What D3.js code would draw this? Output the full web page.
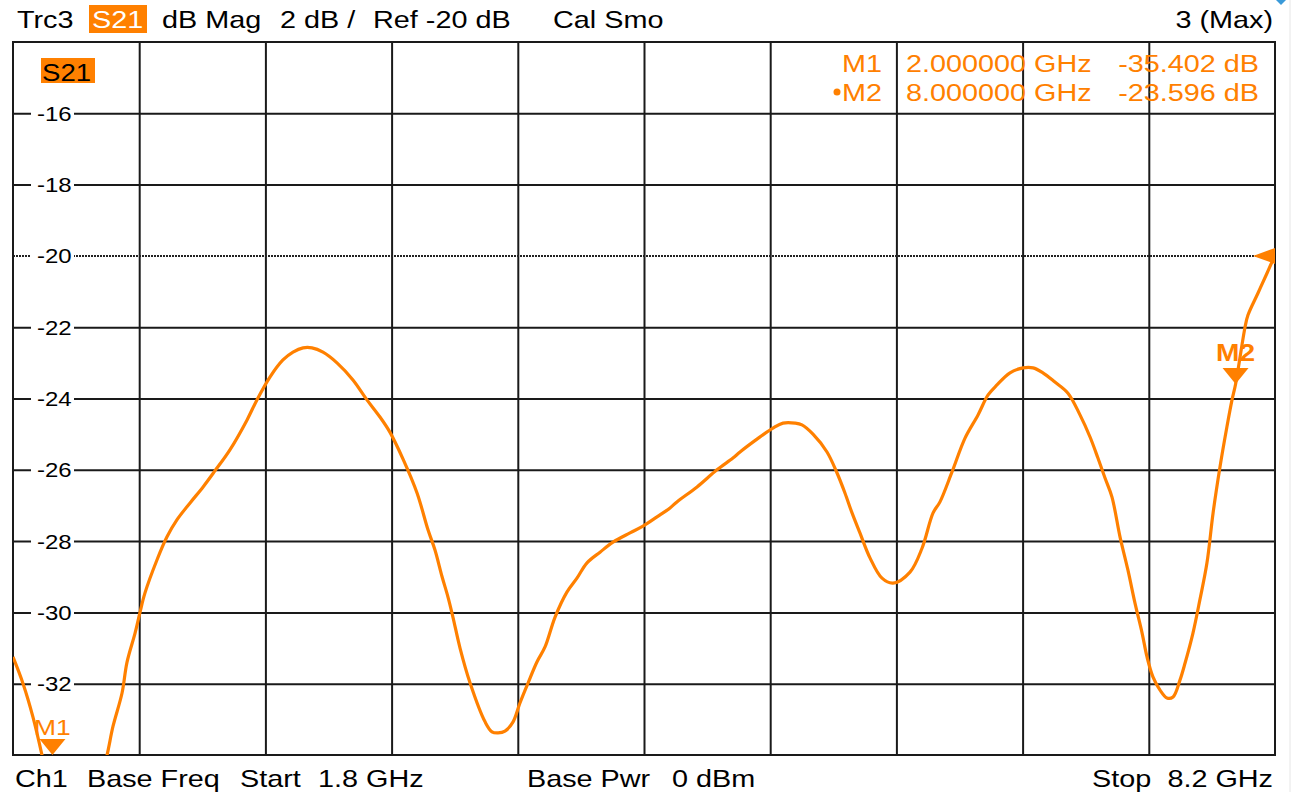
<!DOCTYPE html>
<html>
<head>
<meta charset="utf-8">
<script src="https://cdn.jsdelivr.net/npm/d3@7"></script>
<style>
  body { margin: 0; background: #fff; }
  text { font-family: "Liberation Sans", Arial, sans-serif; }
</style>
</head>
<body>
<div id="chart"></div>
<script>
// trace data (GHz, dB)
var freqs = [1.800, 1.851, 1.901, 1.947, 2.000, 2.064, 2.140, 2.216, 2.277, 2.307, 2.353, 2.378, 2.419, 2.444, 2.469,
  2.530, 2.581, 2.632, 2.698, 2.764, 2.824, 2.900, 2.987, 3.037, 3.103, 3.169, 3.220, 3.271, 3.316, 3.372,
  3.443, 3.524, 3.595, 3.661, 3.712, 3.778, 3.849, 3.905, 3.940, 3.976, 4.006, 4.031, 4.067, 4.118, 4.194,
  4.229, 4.260, 4.295, 4.336, 4.371, 4.412, 4.457, 4.498, 4.549, 4.609, 4.660, 4.711, 4.777, 4.843, 4.929,
  4.995, 5.066, 5.132, 5.167, 5.269, 5.370, 5.451, 5.487, 5.573, 5.654, 5.705, 5.766, 5.801, 5.857, 5.928,
  5.979, 6.019, 6.055, 6.095, 6.146, 6.207, 6.263, 6.349, 6.410, 6.466, 6.501, 6.562, 6.628, 6.694, 6.745,
  6.790, 6.856, 6.922, 6.973, 7.023, 7.084, 7.150, 7.211, 7.262, 7.302, 7.338, 7.373, 7.414, 7.454, 7.490,
  7.526, 7.551, 7.581, 7.617, 7.652, 7.683, 7.718, 7.744, 7.784, 7.819, 7.855, 7.886, 7.921, 7.956, 7.982,
  8.000, 8.048, 8.063, 8.114, 8.160, 8.190, 8.200];
var s21 = [-31.25, -32.0, -32.93, -34.0, -35.4, -35.95, -36.0, -35.3, -34.0, -33.2, -32.26, -31.4, -30.58, -30.0, -29.46,
  -28.53, -27.88, -27.4, -26.93, -26.48, -26.03, -25.44, -24.6, -24.04, -23.4, -22.92, -22.7, -22.58, -22.58, -22.7,
  -23.0, -23.48, -24.04, -24.52, -24.95, -25.7, -26.65, -27.69, -28.25, -29.0, -29.57, -30.13, -31.0, -31.98, -33.07,
  -33.35, -33.38, -33.33, -33.07, -32.54, -31.98, -31.39, -30.97, -30.13, -29.43, -29.04, -28.61, -28.31, -28.03, -27.77,
  -27.58, -27.32, -27.07, -26.9, -26.48, -26.0, -25.67, -25.5, -25.14, -24.83, -24.69, -24.69, -24.74, -25.0, -25.5,
  -26.09, -26.65, -27.21, -27.77, -28.47, -29.04, -29.18, -28.87, -28.2, -27.21, -26.9, -26.06, -25.11, -24.46, -23.9,
  -23.62, -23.28, -23.14, -23.14, -23.28, -23.54, -23.85, -24.46, -25.08, -25.67, -26.23, -26.76, -27.88, -28.81, -29.74,
  -30.58, -31.25, -31.81, -32.18, -32.4, -32.37, -31.9, -31.42, -30.58, -29.65, -28.61, -27.21, -25.92, -24.8, -24.04,
  -23.6, -22.0, -21.66, -21.04, -20.48, -20.12, -20.05];

var gridFreqs = [2.44, 3.08, 3.72, 4.36, 5.00, 5.64, 6.28, 6.92, 7.56];
var gridDb = [-32, -30, -28, -26, -24, -22, -18, -16];
var tickLabels = [-16, -18, -20, -22, -24, -26, -28, -30, -32];
var refLevel = -20;

var markerNames = ["M1", "M2"];
var markerFreqs = [2.0, 8.0];
var markerVals = [-35.402, -23.596];
var markerFreqText = ["2.000000 GHz", "8.000000 GHz"];
var markerValText = ["-35.402 dB", "-23.596 dB"];

var orange = "#ff8000";
var W = 1295, H = 792;
var pL = 13, pR = 1275, pT = 42, pB = 755;

var x = d3.scaleLinear().domain([1.8, 8.2]).range([pL, pR]);
var y = d3.scaleLinear().domain([-34, -14]).range([pB, pT]);

var svg = d3.select("#chart").append("svg")
  .attr("width", W).attr("height", H);

// helper: screen font looks stretched horizontally
function label(g, str, px, py, size, anchor, color, weight) {
  return g.append("text")
    .attr("transform", "translate(" + px + "," + py + ") scale(1.2,1)")
    .attr("text-anchor", anchor || "start")
    .style("font-size", size + "px")
    .style("font-weight", weight || "normal")
    .attr("fill", color || "#000")
    .text(str);
}

// grid lines through the axes
svg.append("g")
  .attr("class", "grid")
  .attr("transform", "translate(0," + pB + ")")
  .call(d3.axisBottom(x).tickValues(gridFreqs).tickSize(-(pB - pT)).tickFormat(""));
svg.append("g")
  .attr("class", "grid")
  .attr("transform", "translate(" + pL + ",0)")
  .call(d3.axisLeft(y).tickValues(gridDb).tickSize(-(pR - pL)).tickFormat(""));
svg.selectAll(".grid .domain").remove();
svg.selectAll(".grid text").remove();
svg.selectAll(".grid line").attr("stroke", "#1a1a1a").attr("stroke-width", 2);

// reference level line (dotted)
svg.append("line")
  .attr("x1", pL).attr("x2", pR)
  .attr("y1", y(refLevel)).attr("y2", y(refLevel))
  .attr("stroke", "#222").attr("stroke-width", 2)
  .attr("stroke-dasharray", "2,1");

// frame
svg.append("rect")
  .attr("x", pL).attr("y", pT)
  .attr("width", pR - pL).attr("height", pB - pT)
  .attr("fill", "none").attr("stroke", "#1a1a1a").attr("stroke-width", 2);

// y labels with white background
var yl = svg.append("g");
tickLabels.forEach(function(v) {
  yl.append("rect")
    .attr("x", 31).attr("y", y(v) - 9).attr("width", 43).attr("height", 18)
    .attr("fill", "#fff");
  label(yl, String(v), 37, y(v) + 7.5, 20);
});

// trace
svg.append("clipPath").attr("id", "plotclip")
  .append("rect").attr("x", pL).attr("y", pT)
  .attr("width", pR - pL).attr("height", pB - pT);

var line = d3.line()
  .x(function(d, i) { return x(freqs[i]); })
  .y(function(d) { return y(d); })
  .curve(d3.curveCatmullRom.alpha(0.5));

svg.append("path")
  .datum(s21)
  .attr("clip-path", "url(#plotclip)")
  .attr("fill", "none")
  .attr("stroke", orange)
  .attr("stroke-width", 3.2)
  .attr("stroke-linejoin", "round")
  .attr("d", line);

// markers on the trace
markerNames.forEach(function(m, i) {
  var mx = x(markerFreqs[i]);
  var my = Math.min(y(markerVals[i]), pB);
  svg.append("path")
    .attr("d", "M" + (mx - 13) + "," + (my - 16) + "L" + (mx + 13) + "," + (my - 16) + "L" + mx + "," + my + "Z")
    .attr("fill", orange);
  if (i === 0) {
    label(svg, m, mx, my - 20, 22, "middle", orange);
  } else {
    svg.append("text")
      .attr("transform", "translate(" + mx + "," + (my - 23) + ") scale(1.17,1)")
      .attr("text-anchor", "middle")
      .style("font-size", "24px").style("font-weight", "bold")
      .attr("fill", orange).text(m);
  }
});

// reference level arrow on the right edge
svg.append("path")
  .attr("d", "M" + (pR - 22) + "," + y(refLevel) + "L" + pR + "," + (y(refLevel) - 8) + "L" + pR + "," + (y(refLevel) + 8) + "Z")
  .attr("fill", orange);

// trace label inside the plot
svg.append("rect").attr("x", 41).attr("y", 58).attr("width", 54).attr("height", 25).attr("fill", orange);
label(svg, "S21", 42, 81, 23);

// marker table
markerNames.forEach(function(m, i) {
  var by = 72 + i * 28.5;
  label(svg, m, 882, by, 24, "end", orange);
  label(svg, markerFreqText[i], 906, by, 24, "start", orange);
  label(svg, markerValText[i], 1259, by, 24, "end", orange);
});
svg.append("circle").attr("cx", 837).attr("cy", 92).attr("r", 3.5).attr("fill", orange);

// header line
svg.append("rect").attr("x", 89).attr("y", 5).attr("width", 58).attr("height", 28).attr("fill", orange);
label(svg, "Trc3", 17, 28, 24);
label(svg, "S21", 92, 28, 24, "start", "#fff");
label(svg, "dB Mag", 162, 28, 24);
label(svg, "2 dB /", 280, 28, 24);
label(svg, "Ref -20 dB", 373, 28, 24);
label(svg, "Cal Smo", 553, 28, 24);
label(svg, "3 (Max)", 1273, 28, 24, "end");

// footer line
label(svg, "Ch1", 15, 787, 24);
label(svg, "Base Freq", 87, 787, 24);
label(svg, "Start", 240, 787, 24);
label(svg, "1.8 GHz", 318, 787, 24);
label(svg, "Base Pwr", 527, 787, 24);
label(svg, "0 dBm", 672, 787, 24);
label(svg, "Stop", 1092, 787, 24);
label(svg, "8.2 GHz", 1273, 787, 24, "end");

// small bits at the right edge of the screen
svg.append("line").attr("x1", 1290).attr("x2", 1290).attr("y1", 0).attr("y2", H)
  .attr("stroke", "#e6e6e6").attr("stroke-width", 1);
svg.append("path").attr("d", "M1276,0L1281,5L1286,0Z").attr("fill", "#3a9ad9");
</script>
</body>
</html>
